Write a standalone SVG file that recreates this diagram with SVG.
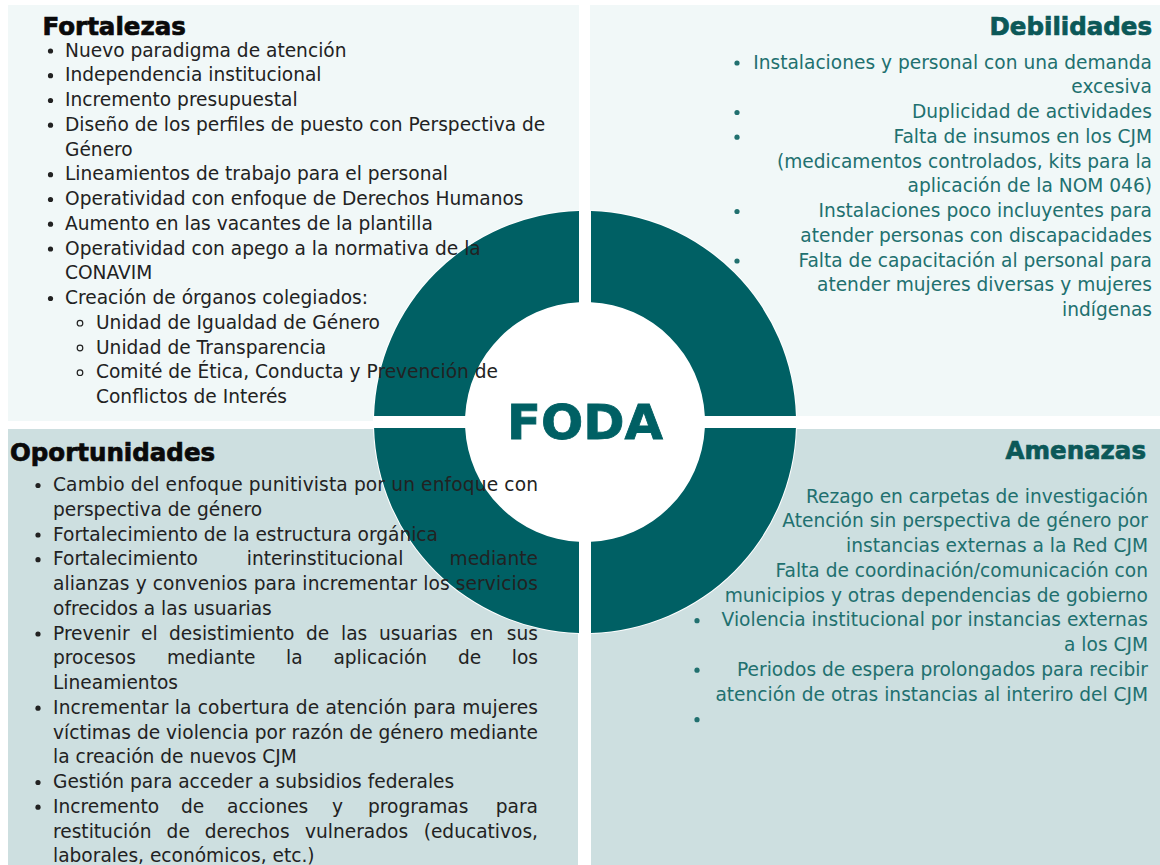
<svg xmlns="http://www.w3.org/2000/svg" width="1160" height="865" viewBox="0 0 1160 865">
<style>
.t{font-family:"DejaVu Sans","Liberation Sans",sans-serif;font-size:18.6px}
.dk{fill:#222222}
.tl{fill:#21706f}
.end{text-anchor:end}
.h{font-family:"DejaVu Sans","Liberation Sans",sans-serif;font-size:24.5px;font-weight:bold;stroke-width:0.7px}
.hdk{fill:#0a0a0a;stroke:#0a0a0a}
.htl{fill:#0b5858;stroke:#0b5858}
.top{fill:#f1f8f8}
.bot{fill:#cddfe0}
.ring{fill:#006064}
.dot{fill:#222222}
.dott{fill:#21706f}
.hol{fill:none;stroke:#222222;stroke-width:1.2}
</style>
<rect width="1160" height="865" fill="#ffffff"/>
<g id="panels">
<rect class="top" x="8" y="5" width="571" height="416"/>
<rect class="top" x="590" y="5" width="570" height="411"/>
<rect class="bot" x="8" y="429" width="570" height="436"/>
<rect class="bot" x="591" y="429" width="569" height="436"/>
</g>
<g id="debilidades">
<text class="h htl end" x="1152" y="35">Debilidades</text>
<g class="dott">
<circle cx="737" cy="63" r="2.6"/>
<circle cx="737" cy="112.5" r="2.6"/>
<circle cx="737" cy="137.2" r="2.6"/>
<circle cx="737" cy="211.5" r="2.6"/>
<circle cx="737" cy="261" r="2.6"/>
</g>
<text class="t tl end" x="1152" y="68.5">Instalaciones y personal con una demanda</text>
<text class="t tl end" x="1152" y="93.2">excesiva</text>
<text class="t tl end" x="1152" y="118">Duplicidad de actividades</text>
<text class="t tl end" x="1152" y="142.7">Falta de insumos en los CJM</text>
<text class="t tl end" x="1152" y="167.5">(medicamentos controlados, kits para la</text>
<text class="t tl end" x="1152" y="192.2">aplicación de la NOM 046)</text>
<text class="t tl end" x="1152" y="217">Instalaciones poco incluyentes para</text>
<text class="t tl end" x="1152" y="241.7">atender personas con discapacidades</text>
<text class="t tl end" x="1152" y="266.5">Falta de capacitación al personal para</text>
<text class="t tl end" x="1152" y="291.2">atender mujeres diversas y mujeres</text>
<text class="t tl end" x="1152" y="316">indígenas</text>
</g>
<g id="amenazas">
<text class="h htl end" x="1146" y="459">Amenazas</text>
<g class="dott">
<circle cx="697" cy="620.7" r="2.6"/>
<circle cx="697" cy="670.2" r="2.6"/>
<circle cx="697" cy="719.7" r="2.6"/>
</g>
<text class="t tl end" x="1148" y="502.5">Rezago en carpetas de investigación</text>
<text class="t tl end" x="1148" y="527.2">Atención sin perspectiva de género por</text>
<text class="t tl end" x="1148" y="552">instancias externas a la Red CJM</text>
<text class="t tl end" x="1148" y="576.7">Falta de coordinación/comunicación con</text>
<text class="t tl end" x="1148" y="601.5">municipios y otras dependencias de gobierno</text>
<text class="t tl end" x="1148" y="626.2">Violencia institucional por instancias externas</text>
<text class="t tl end" x="1148" y="651">a los CJM</text>
<text class="t tl end" x="1148" y="675.7">Periodos de espera prolongados para recibir</text>
<text class="t tl end" x="1148" y="700.5">atención de otras instancias al interiro del CJM</text>
</g>
<g id="foda">
<circle cx="585" cy="422" r="212" fill="#ffffff"/>
<path class="ring" d="M579,211.09 A211,211 0 0 0 374.09,416 L465.15,416 A120,120 0 0 1 579,302.15 Z"/>
<path class="ring" d="M591,211.09 A211,211 0 0 1 795.91,416 L704.85,416 A120,120 0 0 0 591,302.15 Z"/>
<path class="ring" d="M579,632.91 A211,211 0 0 1 374.09,428 L465.15,428 A120,120 0 0 0 579,541.85 Z"/>
<path class="ring" d="M591,632.91 A211,211 0 0 0 795.91,428 L704.85,428 A120,120 0 0 1 591,541.85 Z"/>
<text x="585" y="439" text-anchor="middle" textLength="156" lengthAdjust="spacingAndGlyphs" style="font-family:'DejaVu Sans','Liberation Sans',sans-serif;font-size:48px;font-weight:bold;fill:#006064;stroke:#006064;stroke-width:0.8px">FODA</text>
</g>
<g id="fortalezas">
<text class="h hdk" x="42.5" y="35">Fortalezas</text>
<g class="dot">
<circle cx="50.5" cy="51" r="2.6"/>
<circle cx="50.5" cy="75.7" r="2.6"/>
<circle cx="50.5" cy="100.5" r="2.6"/>
<circle cx="50.5" cy="125.2" r="2.6"/>
<circle cx="50.5" cy="174.7" r="2.6"/>
<circle cx="50.5" cy="199.5" r="2.6"/>
<circle cx="50.5" cy="224.2" r="2.6"/>
<circle cx="50.5" cy="249" r="2.6"/>
<circle cx="50.5" cy="298.5" r="2.6"/>
</g>
<circle class="hol" cx="80" cy="323.2" r="2.8"/>
<circle class="hol" cx="80" cy="348" r="2.8"/>
<circle class="hol" cx="80" cy="372.7" r="2.8"/>
<text class="t dk" x="65" y="56.5">Nuevo paradigma de atención</text>
<text class="t dk" x="65" y="81.2">Independencia institucional</text>
<text class="t dk" x="65" y="106">Incremento presupuestal</text>
<text class="t dk" x="65" y="130.7">Diseño de los perfiles de puesto con Perspectiva de</text>
<text class="t dk" x="65" y="155.5">Género</text>
<text class="t dk" x="65" y="180.2">Lineamientos de trabajo para el personal</text>
<text class="t dk" x="65" y="205">Operatividad con enfoque de Derechos Humanos</text>
<text class="t dk" x="65" y="229.7">Aumento en las vacantes de la plantilla</text>
<text class="t dk" x="65" y="254.5">Operatividad con apego a la normativa de la</text>
<text class="t dk" x="65" y="279.2">CONAVIM</text>
<text class="t dk" x="65" y="304">Creación de órganos colegiados:</text>
<text class="t dk" x="96" y="328.7">Unidad de Igualdad de Género</text>
<text class="t dk" x="96" y="353.5">Unidad de Transparencia</text>
<text class="t dk" x="96" y="378.2">Comité de Ética, Conducta y Prevención de</text>
<text class="t dk" x="96" y="403">Conflictos de Interés</text>
</g>
<g id="oportunidades">
<text class="h hdk" x="10" y="461">Oportunidades</text>
<g class="dot">
<circle cx="38" cy="485.5" r="2.6"/>
<circle cx="38" cy="535" r="2.6"/>
<circle cx="38" cy="559.7" r="2.6"/>
<circle cx="38" cy="634" r="2.6"/>
<circle cx="38" cy="708.2" r="2.6"/>
<circle cx="38" cy="782.5" r="2.6"/>
<circle cx="38" cy="807.2" r="2.6"/>
</g>
<text class="t dk" x="53" y="491" textLength="485" lengthAdjust="spacing">Cambio del enfoque punitivista por un enfoque con</text>
<text class="t dk" x="53" y="515.7">perspectiva de género</text>
<text class="t dk" x="53" y="540.5">Fortalecimiento de la estructura orgánica</text>
<text class="t dk" y="565.2"><tspan x="53">Fortalecimiento</tspan><tspan x="246.8">interinstitucional</tspan></text>
<text class="t dk end" x="538" y="565.2">mediante</text>
<text class="t dk" x="53" y="590" textLength="485" lengthAdjust="spacing">alianzas y convenios para incrementar los servicios</text>
<text class="t dk" x="53" y="614.7">ofrecidos a las usuarias</text>
<text class="t dk" y="639.5"><tspan x="53">Prevenir</tspan><tspan x="141">el</tspan><tspan x="169">desistimiento</tspan><tspan x="306">de</tspan><tspan x="341">las</tspan><tspan x="379">usuarias</tspan><tspan x="470">en</tspan></text>
<text class="t dk end" x="538" y="639.5">sus</text>
<text class="t dk" y="664.2"><tspan x="53">procesos</tspan><tspan x="167">mediante</tspan><tspan x="286">la</tspan><tspan x="333.4">aplicación</tspan><tspan x="458">de</tspan></text>
<text class="t dk end" x="538" y="664.2">los</text>
<text class="t dk" x="53" y="689">Lineamientos</text>
<text class="t dk" x="53" y="713.7" textLength="485" lengthAdjust="spacing">Incrementar la cobertura de atención para mujeres</text>
<text class="t dk" x="53" y="738.5" textLength="485" lengthAdjust="spacing">víctimas de violencia por razón de género mediante</text>
<text class="t dk" x="53" y="763.2">la creación de nuevos CJM</text>
<text class="t dk" x="53" y="788">Gestión para acceder a subsidios federales</text>
<text class="t dk" y="812.7"><tspan x="53">Incremento</tspan><tspan x="181">de</tspan><tspan x="227">acciones</tspan><tspan x="332">y</tspan><tspan x="368">programas</tspan></text>
<text class="t dk end" x="538" y="812.7">para</text>
<text class="t dk" y="837.5"><tspan x="53">restitución</tspan><tspan x="166.6">de</tspan><tspan x="204.7">derechos</tspan><tspan x="305">vulnerados</tspan></text>
<text class="t dk end" x="538" y="837.5">(educativos,</text>
<text class="t dk" x="53" y="862.2">laborales, económicos, etc.)</text>
</g>
<g id="connectors"/>
</svg>
